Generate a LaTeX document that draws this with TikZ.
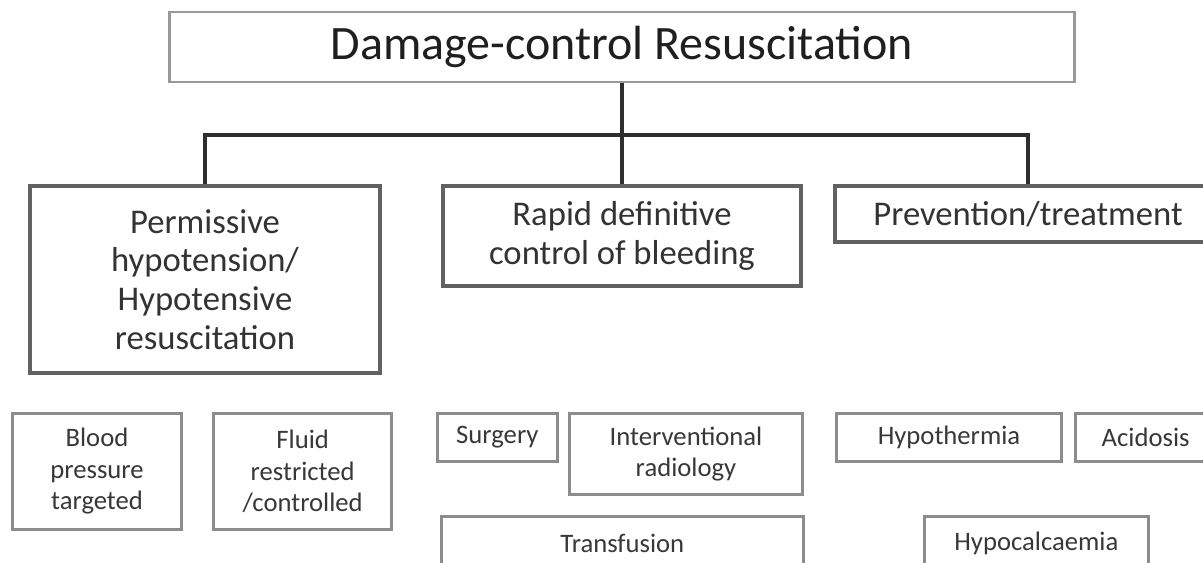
\documentclass[tikz,border=0pt]{standalone}
\usepackage{fontspec}
\setmainfont{Carlito}
\usetikzlibrary{positioning, calc}

\begin{document}
\begin{tikzpicture}[
  x=0.75pt, y=-0.75pt,
  topbox/.style={rectangle, draw=black!40, line width=2.2pt, align=center,
                 inner sep=0pt, text=black!88, font=\fontsize{36}{43}\selectfont},
  mainbox/.style={rectangle, draw=black!62, line width=3pt, align=center,
                  inner sep=0pt, text=black!80, font=\fontsize{26}{29}\selectfont},
  leafbox/.style={rectangle, draw=black!45, line width=2pt, align=center,
                  inner sep=0pt, text=black!78, font=\fontsize{20}{23.5}\selectfont},
  conn/.style={draw=black!82, line width=2.4pt}
]
\useasboundingbox (0,0) rectangle (1203,563);
\clip (0,0) rectangle (1203,563);
\fill[white] (0,0) rectangle (1203,563);

% top level
\node[topbox, minimum width=679pt, minimum height=52.5pt] (dcr) at (622,47)
  {Damage-control Resuscitation};

% second level
\node[mainbox, minimum width=263pt, minimum height=140pt, anchor=north] (perm)
  at (205,184) {Permissive\\hypotension/\\Hypotensive\\resuscitation};
\node[mainbox, minimum width=269pt, minimum height=75pt, anchor=north] (rapid)
  at (622,184) {Rapid definitive\\control of bleeding};
\node[mainbox, minimum width=289.5pt, minimum height=42pt, anchor=north] (prev)
  at (1028,184) {Prevention/treatment};

% tree connectors
\coordinate (bus) at (622,135);
\draw[conn] (dcr.south) -- (bus);
\draw[conn] (perm.north) |- (bus) -| (prev.north);
\draw[conn] (bus) -- (rapid.north);

% leaves
\node[leafbox, minimum width=127pt, minimum height=87pt, anchor=north west] (blood)
  at (11,412) {Blood\\pressure\\targeted};
\node[leafbox, minimum width=133.5pt, minimum height=87pt, right=22pt of blood] (fluid)
  {Fluid\\restricted\\/controlled};
\node[leafbox, minimum width=90pt, minimum height=36pt, anchor=north west] (surg)
  at (436,412) {Surgery};
\node[leafbox, minimum width=175pt, minimum height=61pt,
      right=7pt of surg.north east, anchor=north west] (irad)
  {Interventional\\radiology};
\node[leafbox, minimum width=271.5pt, minimum height=40.5pt, anchor=north west] (trans)
  at (440,515) {Transfusion};
\node[leafbox, minimum width=169pt, minimum height=36pt, anchor=north west] (hypoth)
  at (835,412) {Hypothermia};
\node[leafbox, minimum width=105pt, minimum height=36pt, right=8.5pt of hypoth] (acid)
  {Acidosis};
\node[leafbox, minimum width=168pt, minimum height=40.5pt, anchor=north west] (hypoca)
  at (923,515) {Hypocalcaemia};
\end{tikzpicture}
\end{document}
